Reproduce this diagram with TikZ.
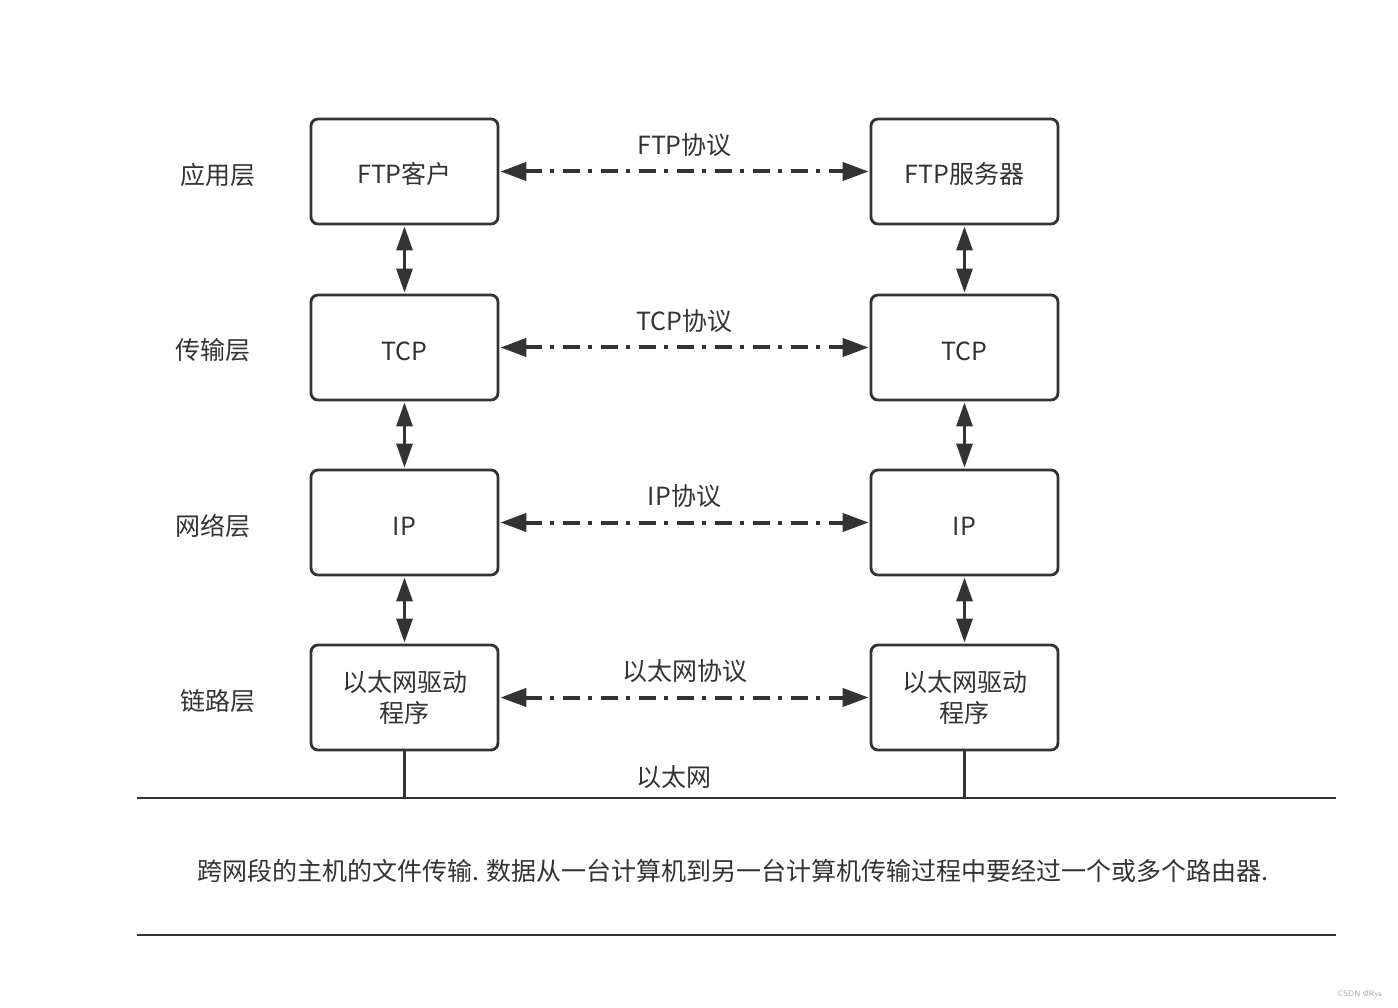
\documentclass[tikz,border=0pt]{standalone}
\usepackage{fontspec}
\setmainfont{Noto Sans CJK SC}
\usetikzlibrary{arrows.meta}
\definecolor{ink}{HTML}{333333}
\begin{document}
\begin{tikzpicture}[x=1pt,y=-1pt,
  every node/.style={font=\fontsize{25}{31}\selectfont, text=ink},
  layerbox/.style={draw=ink, line width=2.8pt, rounded corners=7pt, minimum width=187pt, minimum height=105pt, align=center, inner sep=0pt},
  oneline/.style={text height=25pt, text depth=0pt},
  peer/.style={draw=ink, line width=4pt, dash pattern=on 17pt off 8pt on 4pt off 9pt, {Triangle[length=26pt,width=18pt]}-{Triangle[length=26pt,width=18pt]}, shorten <=1pt, shorten >=1pt},
  stack/.style={draw=ink, line width=3pt, {Triangle[length=24pt,width=16pt]}-{Triangle[length=24pt,width=16pt]}, shorten <=1pt, shorten >=1pt},
  wire/.style={draw=ink, line width=2.5pt}
]
\useasboundingbox[fill=white] (0,0) rectangle (1398,1008);

% layer labels
\node (la) at (218,175) {应用层};
\node (lt) at (213,350) {传输层};
\node (ln) at (213,526) {网络层};
\node (ll) at (218,701) {链路层};

% left stack
\node[layerbox,oneline] (a1) at (404.5,171.5) {FTP客户};
\node[layerbox,oneline] (t1) at (404.5,347.5) {TCP};
\node[layerbox,oneline] (n1) at (404.5,522.5) {IP};
\node[layerbox] (e1) at (404.5,697.5) {以太网驱动\\程序};

% right stack
\node[layerbox,oneline] (a2) at (964.5,171.5) {FTP服务器};
\node[layerbox,oneline] (t2) at (964.5,347.5) {TCP};
\node[layerbox,oneline] (n2) at (964.5,522.5) {IP};
\node[layerbox] (e2) at (964.5,697.5) {以太网驱动\\程序};

% peer protocols
\draw[peer] (a1.east) -- node[above=9pt] (pa) {FTP协议} (a2.west);
\draw[peer] (t1.east) -- node[above=9pt] (pt) {TCP协议} (t2.west);
\draw[peer] (n1.east) -- node[above=9pt] (pn) {IP协议} (n2.west);
\draw[peer] (e1.east) -- node[above=9pt] (pe) {以太网协议} (e2.west);

% vertical stack arrows
\draw[stack] (a1.south) -- (t1.north);
\draw[stack] (t1.south) -- (n1.north);
\draw[stack] (n1.south) -- (e1.north);
\draw[stack] (a2.south) -- (t2.north);
\draw[stack] (t2.south) -- (n2.north);
\draw[stack] (n2.south) -- (e2.north);

% ethernet
\coordinate (wl) at (137,798);
\coordinate (wr) at (1336,798);
\draw[wire] (wl) -- (wr);
\coordinate (d1) at (404.5,798);
\coordinate (d2) at (964.5,798);
\draw[wire] (e1.south) -- (d1);
\draw[wire] (e2.south) -- (d2);
\node (eth) at (674,777) {以太网};

% caption
\node (cap) at (733,871) {跨网段的主机的文件传输. 数据从一台计算机到另一台计算机传输过程中要经过一个或多个路由器.};
\coordinate (bl) at (137,935);
\coordinate (br) at (1336,935);
\draw[wire] (bl) -- (br);

% watermark
\node[font=\fontsize{8}{9}\selectfont\sffamily, text=gray!70] (wm) at (1360,994) {CSDN @Rya};
\end{tikzpicture}
\end{document}
